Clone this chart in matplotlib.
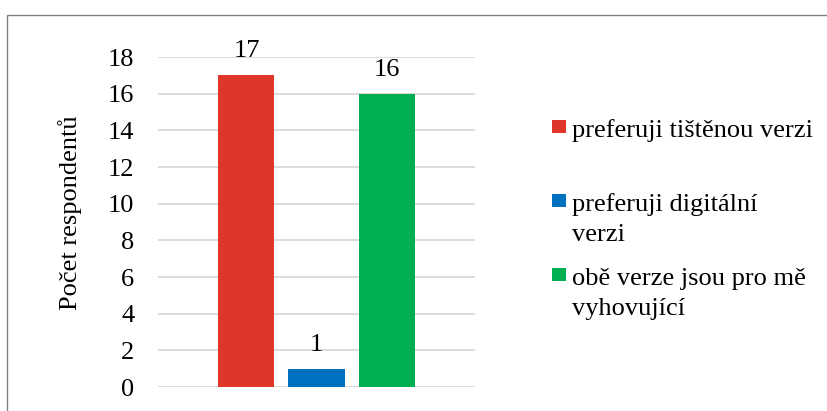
import matplotlib
matplotlib.use("Agg")
import matplotlib.pyplot as plt
from matplotlib.patches import Rectangle
from matplotlib import font_manager as fm

categories = ["preferuji tištěnou verzi", "preferuji digitální\nverzi", "obě verze jsou pro mě\nvyhovující"]
values = [17, 1, 16]
colors = ["#E0362A", "#0070C0", "#00B050"]
yticks = [0, 2, 4, 6, 8, 10, 12, 14, 16, 18]
ylabel = "Počet respondentů"

FAM = 'Liberation Serif'
plt.rcParams['font.family'] = 'serif'
plt.rcParams['font.serif'] = [FAM, 'DejaVu Serif']
FS = 19

def fp():
    return fm.FontProperties(family=FAM, size=FS)

W, H = 827, 411
fig = plt.figure(figsize=(W / 100, H / 100), dpi=100)

def fx(px):
    return px / W

def fy(py):
    return (H - py) / H

# outer chart border
fig.patches.append(Rectangle((fx(7), fy(430)), 1.2, fy(15) - fy(430),
                             transform=fig.transFigure, fill=False,
                             edgecolor="#808080", linewidth=1.0))

ax = fig.add_axes([fx(158), fy(387), fx(475) - fx(158), (387 - 57) / H])
ax.set_xlim(-2.264, 2.264)
ax.set_ylim(0, 18)
ax.set_yticks(yticks)
ax.set_yticklabels([str(t) for t in yticks], fontproperties=fp())
ax.set_xticks([])
ax.grid(axis='y', color="#D9D9D9", linewidth=1.3)
ax.set_axisbelow(True)
for s in ax.spines.values():
    s.set_visible(False)
ax.tick_params(axis='y', length=0, pad=17)
ax.patch.set_alpha(0)

positions = [-1, 0, 1]
for x, v, c in zip(positions, values, colors):
    ax.bar(x, v, width=0.8, color=c, zorder=2)
    ax.annotate(str(v), (x, v), xytext=(0, 13), textcoords='offset points',
                ha='center', va='baseline', fontproperties=fp())

fig.text(fx(70), fy(213), ylabel, rotation=90, ha='center', va='center',
         fontproperties=fp())

# legend
entry_baselines = [137, 211, 285]
line_step = 30
for lab, c, yb in zip(categories, colors, entry_baselines):
    fig.patches.append(Rectangle((fx(552), fy(yb - 4)), fx(566) - fx(552), 13 / H,
                                 transform=fig.transFigure, facecolor=c, edgecolor='none'))
    for i, line in enumerate(lab.split("\n")):
        fig.text(fx(572), fy(yb + i * line_step), line, ha='left', va='baseline',
                 fontproperties=fp())

fig.savefig("out.png", dpi=100)
